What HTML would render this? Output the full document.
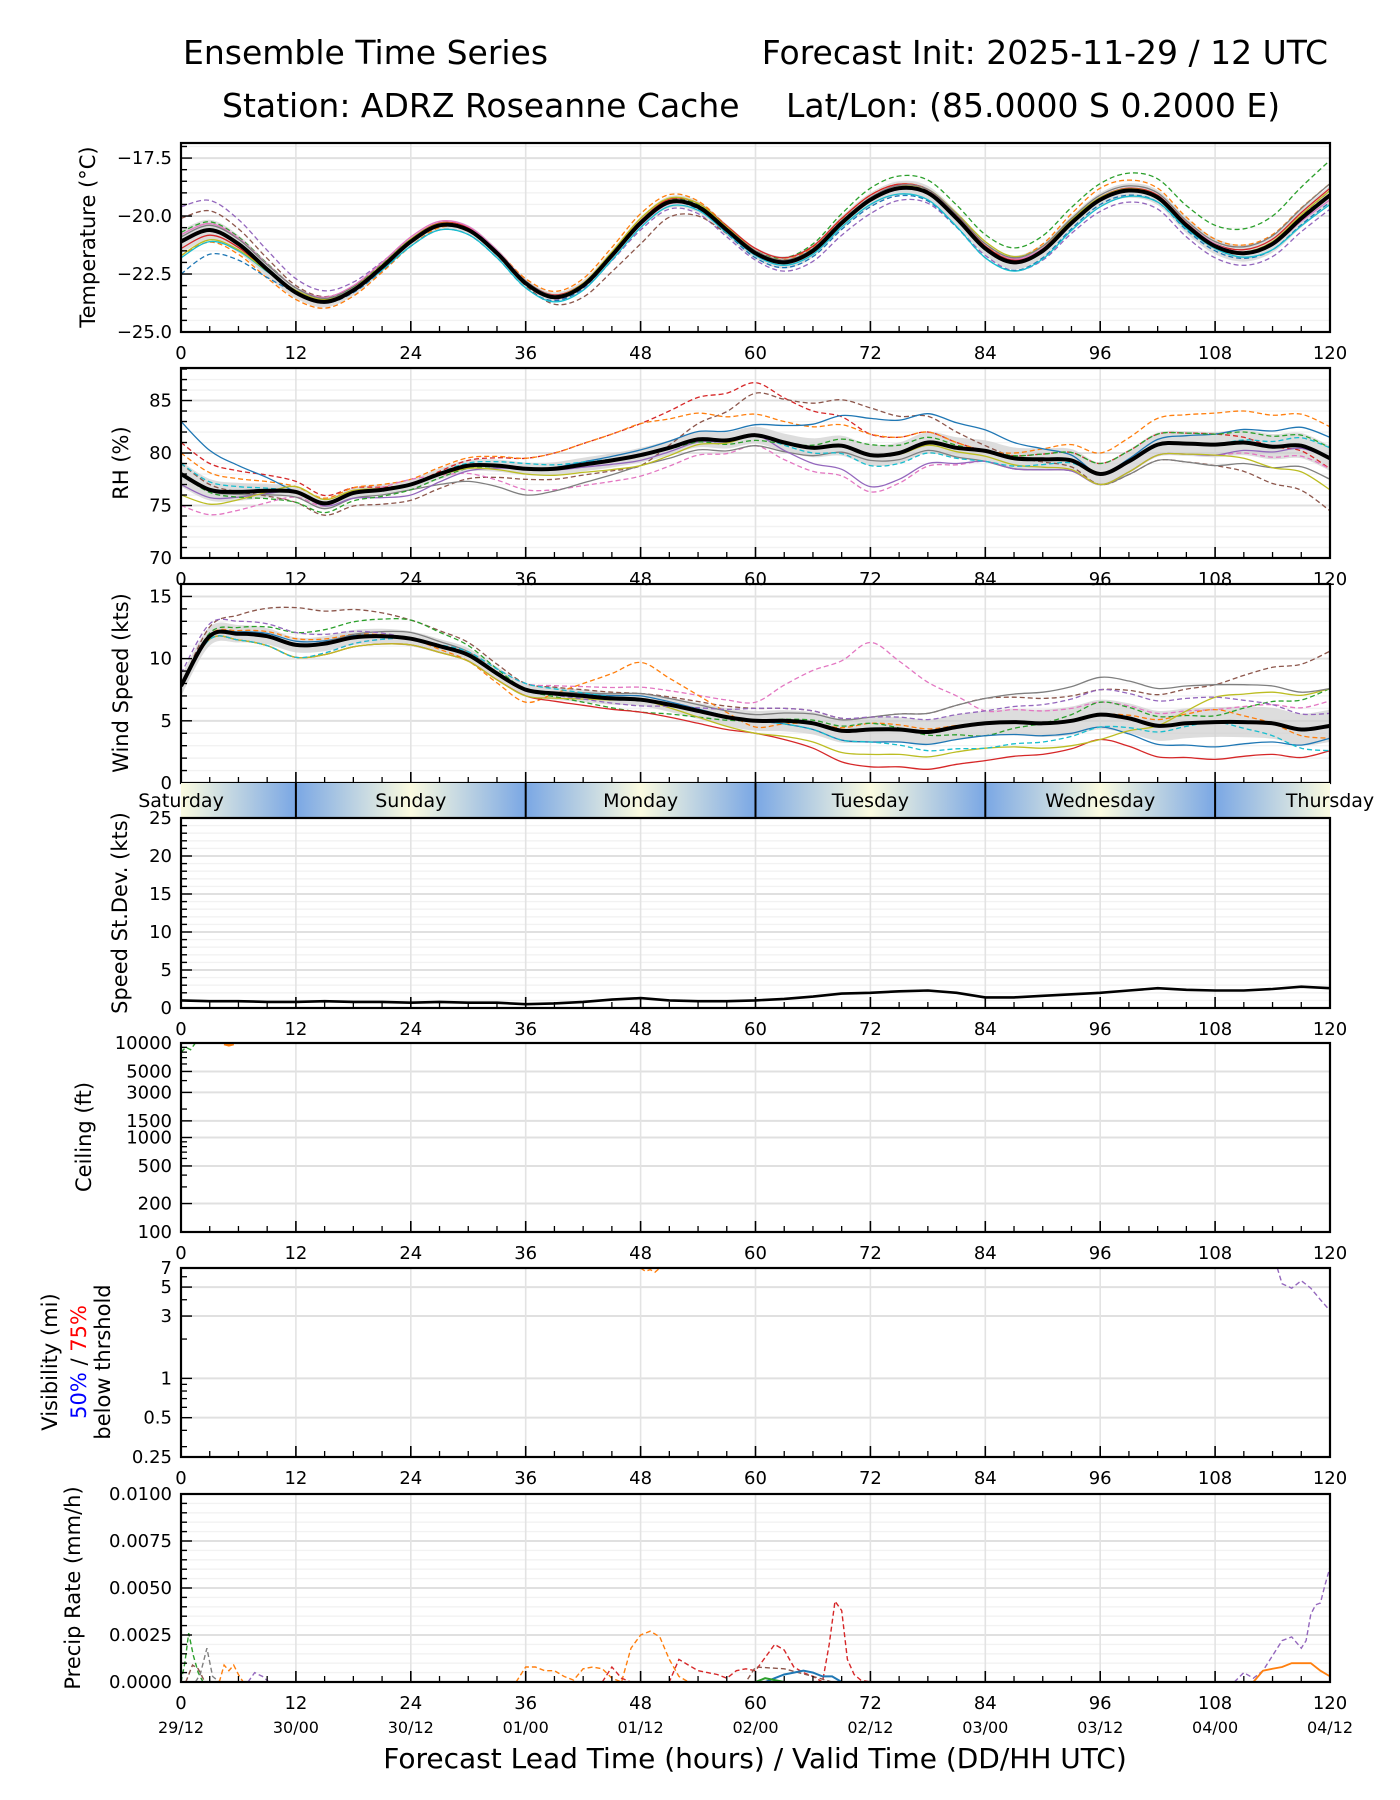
<!DOCTYPE html>
<html><head><meta charset="utf-8"><style>
body{margin:0;background:#fff}
svg{display:block;font-family:"DejaVu Sans","Liberation Sans",sans-serif}
</style></head><body>
<svg id="chart" width="1400" height="1800" viewBox="0 0 1400 1800" xmlns="http://www.w3.org/2000/svg">
<rect width="1400" height="1800" fill="#fff"/>
<text x="183" y="64" font-size="33">Ensemble Time Series</text>
<text x="1328" y="64" font-size="33" text-anchor="end">Forecast Init: 2025-11-29 / 12 UTC</text>
<text x="222" y="117" font-size="33">Station: ADRZ Roseanne Cache</text>
<text x="786" y="117" font-size="33">Lat/Lon: (85.0000 S 0.2000 E)</text>
<defs>
<linearGradient id="dayGrad" x1="0" x2="1" y1="0" y2="0"></linearGradient>
</defs>
<g id="layer"></g>
<text x="755" y="1768" font-size="28" text-anchor="middle">Forecast Lead Time (hours) / Valid Time (DD/HH UTC)</text>
</svg>
<script>
// ---------- data ----------
const HOURS = [0,3,6,9,12,15,18,21,24,27,30,33,36,39,42,45,48,51,54,57,60,63,66,69,72,75,78,81,84,87,90,93,96,99,102,105,108,111,114,117,120];
const X_TICKS = [0,12,24,36,48,60,72,84,96,108,120];
const VALID_LABELS = ["29/12","30/00","30/12","01/00","01/12","02/00","02/12","03/00","03/12","04/00","04/12"];
const DAY_NAMES = ["Saturday","Sunday","Monday","Tuesday","Wednesday","Thursday"];
const DAY_CENTERS = [0,24,48,72,96,120];
const DAY_BOUNDS = [12,36,60,84,108];

const tempMean = [-21.1,-20.6,-21.2,-22.3,-23.3,-23.7,-23.2,-22.2,-21.1,-20.4,-20.6,-21.6,-22.9,-23.5,-23.0,-21.7,-20.3,-19.4,-19.6,-20.6,-21.6,-22.0,-21.5,-20.3,-19.3,-18.8,-19.0,-20.1,-21.4,-22.0,-21.5,-20.3,-19.3,-18.9,-19.2,-20.4,-21.3,-21.6,-21.2,-20.1,-19.1];
const tempSpread = [0.5,0.25,0.2,0.2,0.25,0.25,0.3,0.3,0.3,0.35,0.4];
const tempDevPurple = [1.5,0.6,0.1,0,-0.3,-0.3,-0.6,-0.3,-0.5,-0.5,-0.6];
const tempDevBrown = [1.0,0.3,0,-0.1,-0.9,0.1,0.0,0.2,0.0,-0.1,0.2];
const tempDevGreen = [0.4,0.2,0.1,0,0.1,0.1,0.5,0.6,0.7,0.9,1.5];
const tempDevOrange = [-0.6,-0.3,-0.2,0.2,0.4,0.1,0.2,0.1,0.5,0.3,0.5];
const tempDevBlue = [-1.4,0,-0.2,-0.2,0,-0.2,-0.3,-0.4,-0.2,-0.2,-0.3];
const tempDevRed = [-0.3,0.0,0.1,0.1,0.1,0.2,0.2,0.1,0.1,0.1,0.3];
const tempDevCyan = [-0.7,0.1,-0.2,-0.2,-0.2,-0.1,-0.2,-0.4,-0.3,-0.1,-0.4];
const tempDevOlive = [-0.6,0.1,0.1,0.0,0.2,0.1,0.0,0.3,0.1,0.0,0.2];
const tempDevPink = [0.3,0.2,0.2,0.1,-0.1,0.0,0.1,0.2,0.0,0.1,-0.2];
const tempDevGray = [0.2,0.2,0.0,0.1,0.0,0.1,0.1,0.2,0.2,0.2,0.5];

const rhMean = [78,76.5,76.3,76.4,76.3,75.2,76.2,76.5,77,78,78.8,78.8,78.5,78.5,78.9,79.3,79.8,80.5,81.3,81.2,81.7,81.0,80.5,80.7,79.8,80,81,80.5,80.2,79.5,79.4,79.3,78.0,79.2,80.8,80.9,80.8,81.0,80.6,80.7,79.5];
const rhSpread = [1.2,0.5,0.5,0.6,0.7,0.8,1.0,1.0,1.1,1.2,1.2];
const rhDevRed = [3,1,0,1,3,5,2,0,1,1,-1];
const rhDevBrown = [1,-1,-1.5,-1,-1,4,4.5,0.5,-1,-2,-5];
const rhDevOrange = [2,0.5,0.5,1,3,2,2,0,2,3,3];
const rhDevBlue = [5,0,0,0,0.5,1,3.5,2,0,1,2];
const rhDevPink = [-3,-0.5,0.5,-2,-2,-1,-3.5,-1,-1,-1,-1];
const rhDevGray = [0,-0.5,-0.5,-2.5,-1,-1,-0.5,-1,-1,-2,-2];
const rhDevPurple = [-1,0,-1,0,-0.5,0,-3,-1,-1,-1,0];
const rhDevGreen = [0,-1,-0.5,0,0,-0.5,1,0,1,1,1];
const rhDevOlive = [-2,0.5,0,-0.5,-1,0,0,-0.5,-1,-1,-3];
const rhDevCyan = [1,0,0,0.5,0,0,-1,-1,0,0,1];

const windMean = [7.8,11.8,12.0,11.8,11.1,11.2,11.7,11.8,11.6,11.0,10.3,8.8,7.5,7.2,7.0,6.8,6.7,6.3,5.8,5.3,5.0,5.0,4.8,4.2,4.3,4.3,4.1,4.5,4.8,4.9,4.8,5.0,5.5,5.2,4.6,4.8,4.9,4.9,4.8,4.3,4.6];
const windSpread = [0.8,0.6,0.6,0.5,0.5,0.8,1.0,1.0,1.2,1.2,1.3];
const windDevBrown = [0,3,1.5,0.5,0.5,1,1,2,2,3,6];
const windDevPink = [0,-1,0,0.5,1,1.5,7,1,1,1,2];
const windDevOrange = [0,0.5,0,-1,3,-0.5,0.5,0,0,1,-1];
const windDevGreen = [0,1,1.5,0,-1,0,0.5,-1,1,0.5,3];
const windDevBlue = [0,0.3,0,0,0.3,0,-1,-1,-1,-2,-1];
const windDevRed = [0,-1,-0.5,-0.5,-1,-1,-3,-3,-2,-3,-2];
const windDevOlive = [0,-1,-0.5,-0.5,0,-1,-2,-2,-2,2,3];
const windDevGray = [0,0,0.5,0,0.5,0.5,1,2,3,3,3];
const windDevPurple = [1,1,0,0,-0.5,1,1,1,2,2,1];
const windDevCyan = [0,-1,0,0.5,0,0,-1,-2,-1,0,-2];

const stdevValues = [1.0,0.9,0.9,0.8,0.8,0.9,0.8,0.8,0.7,0.8,0.7,0.7,0.5,0.6,0.8,1.1,1.3,1.0,0.9,0.9,1.0,1.2,1.5,1.9,2.0,2.2,2.3,2.0,1.4,1.4,1.6,1.8,2.0,2.3,2.6,2.4,2.3,2.3,2.5,2.8,2.6];

const ceilGreenT = [0,0.5,1,1.5];
const ceilGreenV = [8000,9000,8500,10000];
const ceilOrangeT = [4.5,5,5.5];
const ceilOrangeV = [9800,9500,9800];

const visOrangeT = [48,48.5,49,49.5,50];
const visOrangeV = [7,6.6,6.8,6.5,7];
const visPurpleT = [114.5,115,116,117,118,119,120];
const visPurpleV = [7,5.3,4.9,5.6,4.9,4.0,3.3];

const prOrangeT = [35,36,37,38,39,40,41,42,43,44,45,46,47,48,49,50,51,52,53];
const prOrangeV = [0,0.0008,0.0008,0.0006,0.0006,0.0003,0.0001,0.0007,0.0008,0.0007,0.0002,0,0.0018,0.0025,0.0027,0.0024,0.0012,0.0003,0];
const prOrangeEarlyT = [4,4.5,5,5.5,6,6.5];
const prOrangeEarlyV = [0,0.0009,0.0006,0.0009,0.0004,0];
const prRedT = [44,45,46,47,51,52,53,54,55,56,57,58,59,60,61,62,63,64,65,66,67,67.7,68.3,69,69.6,70.3,71,72];
const prRedV = [0,0.0008,0.0002,0,0,0.0012,0.0009,0.0006,0.0005,0.0004,0.0002,0.0006,0.0007,0.0006,0.0013,0.0020,0.0017,0.0008,0.0005,0.0003,0,0.0020,0.0043,0.0038,0.0012,0.0004,0.0001,0];
const prPurpleT = [110,111,112,113,114,115,116,117,117.5,118,118.5,119,119.5,120];
const prPurpleV = [0,0.0005,0.0002,0.0006,0.0014,0.0022,0.0024,0.0018,0.0022,0.0036,0.0041,0.0042,0.0052,0.0061];
const prPurpleEarlyT = [7,7.7,8.5,9.2];
const prPurpleEarlyV = [0,0.0005,0.0003,0];
const prOrangeLateT = [112,113,114,115,116,117,118,119,120];
const prOrangeLateV = [0,0.0006,0.0007,0.0008,0.0010,0.0010,0.0010,0.0006,0.0003];
const prGreenT = [0,0.4,0.8,1.3,1.8,2.3];
const prGreenV = [0,0.0010,0.0026,0.0014,0.0005,0];
const prGrayT = [1.5,2,2.7,3.3,4];
const prGrayV = [0,0.0004,0.0018,0.0003,0];
const prBrownT = [0.5,1.2,1.8,2.5,59,60,63,66,68];
const prBrownV = [0,0.0009,0.0007,0,0,0.0008,0.0007,0.0003,0];
const prBlueT = [61,62,63,64,65,66,67,68,69];
const prBlueV = [0,0.0002,0.0004,0.0005,0.0006,0.0005,0.0003,0.0003,0];
const prGreenLateT = [60,61,62,63];
const prGreenLateV = [0,0.0002,0.0001,0];

// ---------- layout ----------
const NS = "http://www.w3.org/2000/svg";
const L = 181, R = 1330;
const layer = document.getElementById('layer');
const xs = t => L + t / 120 * (R - L);
function mk(tag, attrs, parent) {
  const e = document.createElementNS(NS, tag);
  for (const k in attrs) e.setAttribute(k, attrs[k]);
  (parent || layer).appendChild(e);
  return e;
}
function devAt(d, t) { const k = t / 12; const i = Math.min(Math.floor(k), 9); const f = k - i; return d[i] * (1 - f) + d[i + 1] * f; }

const C = {blue:'#1f77b4',orange:'#ff7f0e',green:'#2ca02c',red:'#d62728',purple:'#9467bd',brown:'#8c564b',pink:'#e377c2',gray:'#7f7f7f',olive:'#bcbd22',cyan:'#17becf'};

function makePanel(name, top, bot, ymin, ymax, log) {
  const p = {top, bot, ymin, ymax, log};
  p.y = v => {
    if (log) { const a = Math.log10(ymin), b = Math.log10(ymax); return bot - (Math.log10(v) - a) / (b - a) * (bot - top); }
    return bot - (v - ymin) / (ymax - ymin) * (bot - top);
  };
  const cid = 'clip-' + name;
  const cp = mk('clipPath', {id: cid});
  mk('rect', {x: L, y: top, width: R - L, height: bot - top}, cp);
  p.g = mk('g', {});
  
  
  p.grid = mk('g', {}, p.g);
  p.data = mk('g', {'clip-path': 'url(#' + cid + ')'}, p.g);
  p.axes = mk('g', {}, p.g);
  return p;
}
function xAxis(p, name, withDates) {
  X_TICKS.forEach((t, i) => {
    const gl = mk('line', {x1: xs(t), x2: xs(t), y1: p.top, y2: p.bot, stroke: '#e3e3e3', 'stroke-width': 1.6}, p.grid);
    
    
    mk('line', {x1: xs(t), x2: xs(t), y1: p.bot, y2: p.bot - 11, stroke: '#000', 'stroke-width': 1.6}, p.axes);
    const tl = mk('text', {x: xs(t), y: p.bot + 27, 'font-size': 18, 'text-anchor': 'middle'}, p.axes);
    tl.textContent = t;
    
    
    if (withDates) {
      const dl = mk('text', {x: xs(t), y: p.bot + 51, 'font-size': 16, 'text-anchor': 'middle'}, p.axes);
      dl.textContent = VALID_LABELS[i];
      
      
    }
  });
  for (let t = 3; t < 120; t += 3) if (t % 12) mk('line', {x1: xs(t), x2: xs(t), y1: p.bot, y2: p.bot - 6, stroke: '#000', 'stroke-width': 1.3}, p.axes);
}
function yAxisLinear(p, name, major, minor, fmt) {
  for (let v = p.ymin; v <= p.ymax + 1e-9; v += minor) {
    const isMajor = Math.abs(v / major - Math.round(v / major)) < 1e-6;
    const y = p.y(v);
    mk('line', {x1: L, x2: R, y1: y, y2: y, stroke: isMajor ? '#e0e0e0' : '#f2f2f2', 'stroke-width': isMajor ? 2 : 1.4}, p.grid);
    mk('line', {x1: L, x2: L + (isMajor ? 11 : 6), y1: y, y2: y, stroke: '#000', 'stroke-width': 1.4}, p.axes);
    if (isMajor) {
      const tl = mk('text', {x: L - 9, y: y + 6, 'font-size': 18, 'text-anchor': 'end'}, p.axes);
      tl.textContent = fmt(v);
      
      
    }
  }
}
function yAxisLog(p, name, ticks, minors, labels) {
  minors.forEach(v => mk('line', {x1: L, x2: L + 6, y1: p.y(v), y2: p.y(v), stroke: '#000', 'stroke-width': 1.3}, p.axes));
  ticks.forEach((v, i) => {
    const y = p.y(v);
    mk('line', {x1: L, x2: R, y1: y, y2: y, stroke: '#e0e0e0', 'stroke-width': 2}, p.grid);
    mk('line', {x1: L, x2: L + 11, y1: y, y2: y, stroke: '#000', 'stroke-width': 1.4}, p.axes);
    const tl = mk('text', {x: L - 9, y: y + 6, 'font-size': 18, 'text-anchor': 'end'}, p.axes);
    tl.textContent = labels[i];
    
    
  });
}
function frame(p) { mk('rect', {x: L, y: p.top, width: R - L, height: p.bot - p.top, fill: 'none', stroke: '#000', 'stroke-width': 2.2}, p.axes); }
function yTitle(text, x, cy, name) {
  const t = mk('text', {x: 0, y: 0, 'font-size': 21, 'text-anchor': 'middle', transform: 'translate(' + x + ',' + cy + ') rotate(-90)'});
  t.textContent = text;
  
  
}
function linePath(ts, vs, p) { return ts.map((t, i) => (i ? 'L' : 'M') + xs(t).toFixed(1) + ',' + p.y(vs[i]).toFixed(1)).join(''); }
// smooth Catmull-Rom path through points
function smoothPts(pts, start) {
  let d = start ? 'M' + pts[0][0].toFixed(1) + ',' + pts[0][1].toFixed(1) : 'L' + pts[0][0].toFixed(1) + ',' + pts[0][1].toFixed(1);
  for (let i = 0; i < pts.length - 1; i++) {
    const p0 = pts[Math.max(0, i - 1)], p1 = pts[i], p2 = pts[i + 1], p3 = pts[Math.min(pts.length - 1, i + 2)];
    const c1x = p1[0] + (p2[0] - p0[0]) / 6, c1y = p1[1] + (p2[1] - p0[1]) / 6;
    const c2x = p2[0] - (p3[0] - p1[0]) / 6, c2y = p2[1] - (p3[1] - p1[1]) / 6;
    d += 'C' + c1x.toFixed(1) + ',' + c1y.toFixed(1) + ' ' + c2x.toFixed(1) + ',' + c2y.toFixed(1) + ' ' + p2[0].toFixed(1) + ',' + p2[1].toFixed(1);
  }
  return d;
}
function smoothPath(ts, vs, p) { return smoothPts(ts.map((t, i) => [xs(t), p.y(vs[i])]), true); }
function drawEnsemble(p, name, mean, spread, members, floor) {
  const lo = HOURS.map((t, i) => mean[i] - devAt(spread, t));
  const hi = HOURS.map((t, i) => mean[i] + devAt(spread, t));
  const hiPts = HOURS.map((t, i) => [xs(t), p.y(hi[i])]);
  const loPts = HOURS.map((t, i) => [xs(t), p.y(lo[i])]).reverse();
  const d = smoothPts(hiPts, true) + smoothPts(loPts, false) + 'Z';
  const band = mk('path', {d, fill: '#cfcfcf', 'fill-opacity': 0.7, stroke: 'none'}, p.data);
  
  
  members.forEach(m => {
    const vs = HOURS.map((t, i) => Math.max(floor, mean[i] + devAt(m.dev, t)));
    const pl = mk('path', {d: smoothPath(HOURS, vs, p), fill: 'none', stroke: C[m.c], 'stroke-width': 1.3, 'stroke-dasharray': m.dash ? '5,3' : 'none'}, p.data);
    
    
  });
  const ml = mk('path', {d: smoothPath(HOURS, mean, p), fill: 'none', stroke: '#000', 'stroke-width': 4, 'stroke-linejoin': 'round'}, p.data);
  
  
}
function drawSeries(p, name, ts, vs, color, dash, w) {
  const pl = mk('path', {d: linePath(ts, vs, p), fill: 'none', stroke: color, 'stroke-width': w || 1.4, 'stroke-dasharray': dash ? '5,3' : 'none'}, p.data);
  
  
}

// Temperature
const pT = makePanel('temperature', 143, 332, -25, -16.85, false);
yAxisLinear(pT, 'temperature', 2.5, 0.5, v => (v < 0 ? '\u2212' : '') + Math.abs(v).toFixed(1));
drawEnsemble(pT, 'temperature', tempMean, tempSpread, [
  {c:'purple',dash:1,dev:tempDevPurple},{c:'brown',dash:1,dev:tempDevBrown},{c:'green',dash:1,dev:tempDevGreen},
  {c:'orange',dash:1,dev:tempDevOrange},{c:'blue',dash:1,dev:tempDevBlue},{c:'red',dash:0,dev:tempDevRed},
  {c:'cyan',dash:0,dev:tempDevCyan},{c:'olive',dash:0,dev:tempDevOlive},{c:'pink',dash:0,dev:tempDevPink},{c:'gray',dash:0,dev:tempDevGray}], -99);
xAxis(pT, 'temperature', false); frame(pT);
yTitle('Temperature (\u00b0C)', 95, 237, 'temperature-y-title');

// RH
const pR = makePanel('rh', 368, 558, 70, 88.1, false);
yAxisLinear(pR, 'rh', 5, 1, v => v.toFixed(0));
drawEnsemble(pR, 'rh', rhMean, rhSpread, [
  {c:'red',dash:1,dev:rhDevRed},{c:'brown',dash:1,dev:rhDevBrown},{c:'orange',dash:1,dev:rhDevOrange},
  {c:'blue',dash:0,dev:rhDevBlue},{c:'pink',dash:1,dev:rhDevPink},{c:'gray',dash:0,dev:rhDevGray},
  {c:'purple',dash:0,dev:rhDevPurple},{c:'green',dash:1,dev:rhDevGreen},{c:'olive',dash:0,dev:rhDevOlive},{c:'cyan',dash:1,dev:rhDevCyan}], 0);
xAxis(pR, 'rh', false); frame(pR);
yTitle('RH (%)', 128, 463, 'rh-y-title');

// Wind
const pW = makePanel('wind', 584, 783, 0, 16, false);
yAxisLinear(pW, 'wind', 5, 1, v => v.toFixed(0));
drawEnsemble(pW, 'wind', windMean, windSpread, [
  {c:'brown',dash:1,dev:windDevBrown},{c:'pink',dash:1,dev:windDevPink},{c:'orange',dash:1,dev:windDevOrange},
  {c:'green',dash:1,dev:windDevGreen},{c:'blue',dash:0,dev:windDevBlue},{c:'red',dash:0,dev:windDevRed},
  {c:'olive',dash:0,dev:windDevOlive},{c:'gray',dash:0,dev:windDevGray},{c:'purple',dash:1,dev:windDevPurple},{c:'cyan',dash:1,dev:windDevCyan}], 0);
X_TICKS.forEach(t => mk('line', {x1: xs(t), x2: xs(t), y1: 783, y2: 772, stroke: '#000', 'stroke-width': 1.6}, pW.axes));
for (let t = 3; t < 120; t += 3) if (t % 12) mk('line', {x1: xs(t), x2: xs(t), y1: 783, y2: 777, stroke: '#000', 'stroke-width': 1.3}, pW.axes);
X_TICKS.forEach(t => mk('line', {x1: xs(t), x2: xs(t), y1: pW.top, y2: pW.bot, stroke: '#e3e3e3', 'stroke-width': 1.6}, pW.grid));
frame(pW);
yTitle('Wind Speed (kts)', 128, 683, 'wind-y-title');

// Day bar
const grad = document.getElementById('dayGrad');
for (let t = 0; t <= 120; t += 12) {
  const s = document.createElementNS(NS, 'stop');
  s.setAttribute('offset', (t / 120).toFixed(4));
  s.setAttribute('stop-color', (t % 24 === 0) ? '#fbfbe0' : '#7aa7e4');
  grad.appendChild(s);
}
const bar = mk('rect', {x: L, y: 783, width: R - L, height: 35, fill: 'url(#dayGrad)'});


DAY_BOUNDS.forEach(t => mk('line', {x1: xs(t), x2: xs(t), y1: 783, y2: 818, stroke: '#000', 'stroke-width': 2}));
DAY_NAMES.forEach((n, i) => {
  const tx = mk('text', {x: xs(DAY_CENTERS[i]), y: 807, 'font-size': 19, 'text-anchor': 'middle'});
  tx.textContent = n;
  
  
});

// Stdev
const pS = makePanel('stdev', 818, 1008, 0, 25, false);
yAxisLinear(pS, 'stdev', 5, 1, v => v.toFixed(0));
drawSeries(pS, 'stdev-line', HOURS, stdevValues, '#000', false, 2.6);
xAxis(pS, 'stdev', false); frame(pS);
yTitle('Speed St.Dev. (kts)', 127, 913, 'stdev-y-title');

// Ceiling
const pC = makePanel('ceiling', 1043, 1232, 100, 10000, true);
yAxisLog(pC, 'ceiling', [10000,5000,3000,1500,1000,500,200,100], [9000,8000,7000,6000,4000,2000,900,800,700,600,400,300],
  ['10000','5000','3000','1500','1000','500','200','100']);
drawSeries(pC, 'ceiling-member-green', ceilGreenT, ceilGreenV, C.green, true);
drawSeries(pC, 'ceiling-member-orange', ceilOrangeT, ceilOrangeV, C.orange, false, 3);
xAxis(pC, 'ceiling', false); frame(pC);
yTitle('Ceiling (ft)', 91, 1137, 'ceiling-y-title');

// Visibility
const pV = makePanel('visibility', 1268, 1457, 0.25, 7, true);
yAxisLog(pV, 'visibility', [7,5,3,1,0.5,0.25], [6,4,2,0.9,0.8,0.7,0.6,0.4,0.3], ['7','5','3','1','0.5','0.25']);
drawSeries(pV, 'visibility-member-orange', visOrangeT, visOrangeV, C.orange, true);
drawSeries(pV, 'visibility-member-purple', visPurpleT, visPurpleV, C.purple, true);
xAxis(pV, 'visibility', false); frame(pV);
yTitle('Visibility (mi)', 57, 1362, 'visibility-y-title');
const vt = mk('text', {x: 0, y: 0, 'font-size': 21, 'text-anchor': 'middle', transform: 'translate(86,1362) rotate(-90)'});


vt.innerHTML = '<tspan fill="#0000ff">50%</tspan> / <tspan fill="#ff0000">75%</tspan>';
yTitle('below thrshold', 110, 1362, 'visibility-threshold-subtitle');

// Precip
const pP = makePanel('precip', 1494, 1682, 0, 0.01, false);
yAxisLinear(pP, 'precip', 0.0025, 0.0005, v => v.toFixed(4));
drawSeries(pP, 'precip-member-orange', prOrangeT, prOrangeV, C.orange, true);
drawSeries(pP, 'precip-member-orange-early', prOrangeEarlyT, prOrangeEarlyV, C.orange, true);
drawSeries(pP, 'precip-member-red', prRedT, prRedV, C.red, true);
drawSeries(pP, 'precip-member-purple', prPurpleT, prPurpleV, C.purple, true);
drawSeries(pP, 'precip-member-purple-early', prPurpleEarlyT, prPurpleEarlyV, C.purple, true);
drawSeries(pP, 'precip-member-orange-late', prOrangeLateT, prOrangeLateV, C.orange, false, 1.8);
drawSeries(pP, 'precip-member-green', prGreenT, prGreenV, C.green, true);
drawSeries(pP, 'precip-member-gray', prGrayT, prGrayV, C.gray, true);
drawSeries(pP, 'precip-member-brown', prBrownT, prBrownV, C.brown, true);
drawSeries(pP, 'precip-member-blue', prBlueT, prBlueV, C.blue, false, 2);
drawSeries(pP, 'precip-member-green-late', prGreenLateT, prGreenLateV, C.green, false, 2);
xAxis(pP, 'precip', true); frame(pP);
yTitle('Precip Rate (mm/h)', 80, 1588, 'precip-y-title');
</script>
</body></html>
